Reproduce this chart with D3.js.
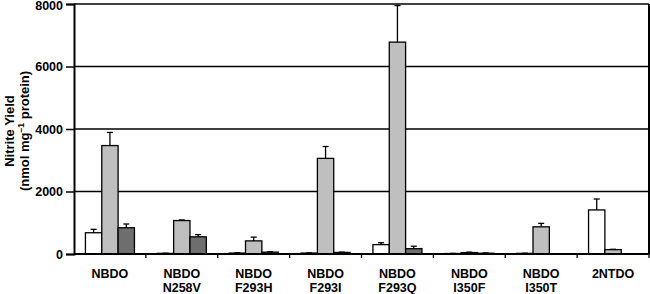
<!DOCTYPE html>
<html>
<head>
<meta charset="utf-8">
<script src="https://cdn.jsdelivr.net/npm/d3@7"></script>
<style>
  body { margin: 0; background: #fff; }
  svg { display: block; font-family: "Liberation Sans", Arial, sans-serif; font-weight: bold; }
</style>
</head>
<body>
<svg id="chart"></svg>
<script>
// categories (two label lines)
const catLine1 = ["NBDO", "NBDO", "NBDO", "NBDO", "NBDO", "NBDO", "NBDO", "2NTDO"];
const catLine2 = ["", "N258V", "F293H", "F293I", "F293Q", "I350F", "I350T", ""];

// three series per category, with upper error values
const seriesNames = ["a", "b", "c"];
const whiteVals = [680, 20, 30, 30, 300, 15, 20, 1410];
const whiteErr  = [790, 25, 40, 35, 360, 20, 25, 1760];
const grayVals  = [3470, 1070, 420, 3060, 6780, 45, 870, 140];
const grayErr   = [3890, 1090, 540, 3440, 7950, 60, 980, 150];
const darkVals  = [840, 550, 60, 50, 170, 25, 0, 0];
const darkErr   = [960, 620, 70, 60, 250, 35, 0, 0];

const yTicks = [0, 2000, 4000, 6000, 8000];

const width = 650, height = 294;
const margin = {top: 4, right: 1, bottom: 40, left: 74};
const innerW = width - margin.left - margin.right;
const innerH = height - margin.top - margin.bottom;

const series = [
  {name: "a", vals: whiteVals, err: whiteErr, fill: "#ffffff"},
  {name: "b", vals: grayVals, err: grayErr, fill: "#bfbfbf"},
  {name: "c", vals: darkVals, err: darkErr, fill: "#6e6e6e"}
];

const svg = d3.select("#chart").attr("width", width).attr("height", height);
const g = svg.append("g").attr("transform", `translate(${margin.left},${margin.top})`);

const x0 = d3.scaleBand().domain(d3.range(catLine1.length)).range([0, innerW]).padding(0);
const x1 = d3.scaleBand().domain(seriesNames).range([0, x0.bandwidth()]).paddingInner(0).paddingOuter(0.7);
const y = d3.scaleLinear().domain([0, 8000]).range([innerH, 0]);

// gridlines
g.selectAll(".grid").data(yTicks.filter(d => d > 0)).join("line")
  .attr("x1", 0).attr("x2", innerW)
  .attr("y1", d => y(d)).attr("y2", d => y(d))
  .attr("stroke", "#000").attr("stroke-width", 1.4);

// right border
g.append("line")
  .attr("x1", innerW).attr("x2", innerW).attr("y1", 0).attr("y2", innerH)
  .attr("stroke", "#000").attr("stroke-width", 2);

// bars and error bars
const groups = g.selectAll(".grp").data(d3.range(catLine1.length)).join("g")
  .attr("transform", i => `translate(${x0(i)},0)`);

series.forEach(s => {
  groups.filter(i => s.vals[i] > 0).append("rect")
    .attr("x", x1(s.name))
    .attr("y", i => y(s.vals[i]))
    .attr("width", x1.bandwidth())
    .attr("height", i => y(0) - y(s.vals[i]))
    .attr("fill", s.fill)
    .attr("stroke", "#000")
    .attr("stroke-width", 1.3);

  const cx = x1(s.name) + x1.bandwidth() / 2;
  const eb = groups.filter(i => s.err[i] > s.vals[i]);
  eb.append("line")
    .attr("x1", cx).attr("x2", cx)
    .attr("y1", i => y(s.vals[i])).attr("y2", i => y(s.err[i]))
    .attr("stroke", "#000").attr("stroke-width", 1.3);
  eb.append("line")
    .attr("x1", cx - 3).attr("x2", cx + 3)
    .attr("y1", i => y(s.err[i])).attr("y2", i => y(s.err[i]))
    .attr("stroke", "#000").attr("stroke-width", 1.3);
});

// y axis
const yAxis = g.append("g")
  .attr("font-family", null).attr("font-size", null)
  .call(d3.axisLeft(y).tickValues(yTicks).tickFormat(d3.format("d")).tickSize(8).tickPadding(3));
yAxis.attr("font-family", "Liberation Sans, Arial, sans-serif").attr("font-size", 12.5).attr("font-weight", "bold");
yAxis.select(".domain").attr("stroke-width", 2);
yAxis.selectAll(".tick line").attr("stroke-width", 1.5);
yAxis.selectAll("text").attr("fill", "#000")
  .attr("dy", d => d === 8000 ? "0.45em" : "0.32em");

// x axis
const xAxis = g.append("g").attr("transform", `translate(0,${innerH})`);
xAxis.append("line").attr("x1", 0).attr("x2", innerW).attr("stroke", "#000").attr("stroke-width", 2);
xAxis.selectAll(".xt").data(d3.range(1, catLine1.length + 1)).join("line")
  .attr("x1", i => i * x0.step()).attr("x2", i => i * x0.step())
  .attr("y1", 0).attr("y2", 4)
  .attr("stroke", "#000").attr("stroke-width", 1.3);

const labels = xAxis.selectAll(".xl").data(d3.range(catLine1.length)).join("text")
  .attr("text-anchor", "middle")
  .attr("font-size", 12.5)
  .attr("fill", "#000");
labels.append("tspan")
  .attr("x", i => x0(i) + x0.bandwidth() / 2).attr("y", 23.5)
  .text(i => catLine1[i]);
labels.append("tspan")
  .attr("x", i => x0(i) + x0.bandwidth() / 2).attr("y", 37.5)
  .text(i => catLine2[i]);

// y axis title
const title = svg.append("text")
  .attr("transform", `translate(0,131) rotate(-90)`)
  .attr("text-anchor", "middle")
  .attr("font-size", 13)
  .attr("fill", "#000");
title.append("tspan").attr("x", 0).attr("y", 14).text("Nitrite Yield");
const t2 = title.append("tspan").attr("x", 0).attr("y", 29);
t2.append("tspan").text("(nmol mg");
t2.append("tspan").attr("font-size", 8.5).attr("dy", -5).text("\u22121");
t2.append("tspan").attr("dy", 5).text(" protein)");
</script>
</body>
</html>
